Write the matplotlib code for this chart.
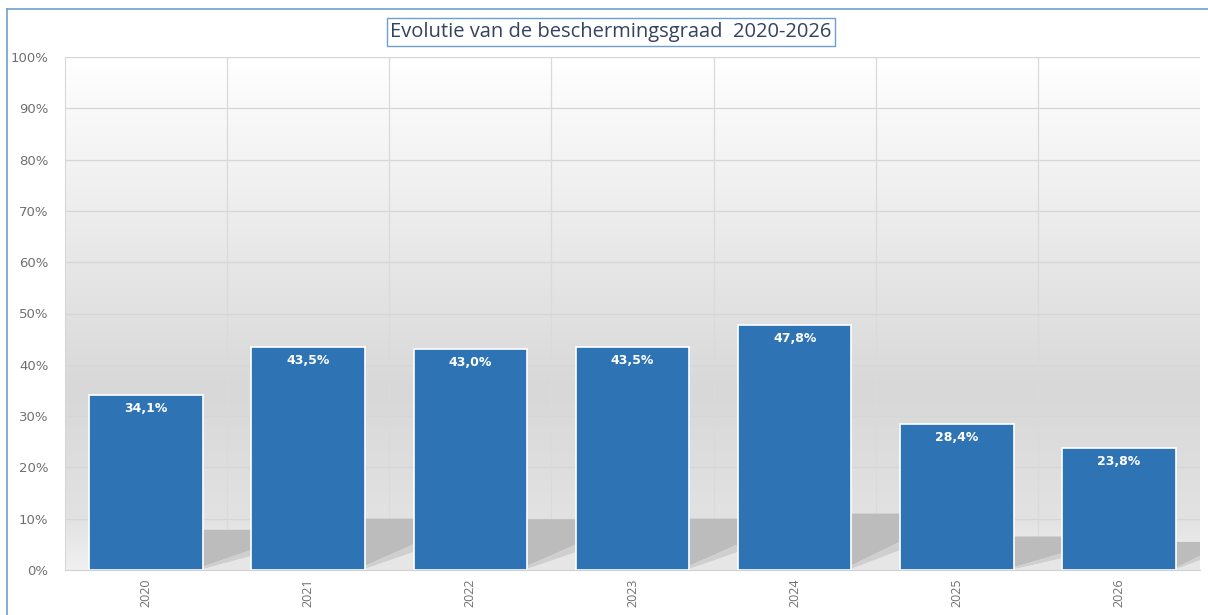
import numpy as np
import matplotlib.pyplot as plt
from matplotlib.lines import Line2D
from matplotlib.colors import LinearSegmentedColormap

years = ['2020', '2021', '2022', '2023', '2024', '2025', '2026']
values = [34.1, 43.5, 43.0, 43.5, 47.8, 28.4, 23.8]
labels = ['34,1%', '43,5%', '43,0%', '43,5%', '47,8%', '28,4%', '23,8%']
yticks = [0, 10, 20, 30, 40, 50, 60, 70, 80, 90, 100]

plt.rcParams['font.family'] = ['Open Sans', 'DejaVu Sans']

fig = plt.figure(figsize=(12.08, 6.15), dpi=100)
ax = fig.add_axes([65/1208, 45/615, (1200-65)/1208, (570-57)/615])

# achtergrond verloop
cmap = LinearSegmentedColormap.from_list('bg', [(0, '#f0f0f0'), (0.1, '#e2e2e2'),
                                                (0.35, '#d8d8d8'), (1, '#ffffff')])
grad = np.linspace(0, 1, 256).reshape(-1, 1)
ax.imshow(grad, extent=(-0.5, 6.5, 0, 100), origin='lower', aspect='auto',
          cmap=cmap, zorder=0)

x = np.arange(len(years))
bw = 0.70
for y in yticks[1:]:
    ax.axhline(y, color='#d6d6d6', lw=0.9, zorder=1)
for b in np.arange(0.5, 6.5, 1):
    ax.axvline(b, color='#dadada', lw=0.9, zorder=1)

# schaduwen
for i, v in enumerate(values):
    x0 = i + bw/2
    x1 = i + 1 - bw/2 if i < len(values)-1 else 6.5
    h = v * 0.23
    ax.fill([x0, x1, x1, x0], [h, h, 0.5*h, 0.08*h], color='#bcbcbc', lw=0, zorder=2)
    ax.fill([x0, x1, x1, x0], [0.08*h, 0.5*h, 0.35*h, 0.02*h], color='#cfcfcf', lw=0, zorder=2)
    ax.fill([x0, x1, x1, x0], [0, 0, 0.35*h, 0.02*h], color='#e6e6e6', lw=0, zorder=2)

ax.bar(x, values, width=bw, color='#2e74b5', edgecolor='white', lw=1.2, zorder=3)
for i, v in enumerate(values):
    ax.text(i, v - 2.6, labels[i], ha='center', va='center', color='white',
            fontsize=9, fontweight='bold', family='DejaVu Sans', zorder=4)

ax.set_xlim(-0.5, 6.5)
ax.set_ylim(0, 100)
ax.set_yticks(yticks)
ax.set_yticklabels([f'{t}%' for t in yticks], color='#707070', fontsize=9.5,
                   family='DejaVu Sans')
ax.set_xticks(x)
ax.set_xticklabels(years, rotation=90, color='#707070', fontsize=9)
ax.tick_params(length=0, pad=12)
ax.tick_params(axis='x', pad=6)
for s in ax.spines.values():
    s.set_visible(False)
ax.spines['bottom'].set_visible(True)
ax.spines['bottom'].set_color('#d0d0d0')
ax.spines['left'].set_visible(True)
ax.spines['left'].set_color('#d8d8d8')

fig.text(611/1208, 1 - 32/615, 'Evolutie van de beschermingsgraad  2020-2026',
         ha='center', va='center', fontsize=14.5, color='#34435f',
         bbox=dict(boxstyle='square,pad=0.18', fc='white', ec='#6f9fd0', lw=1))

fig.add_artist(Line2D([7/1208, 7/1208], [0, 1 - 9/615], color='#6f9fd0', lw=1.2))
fig.add_artist(Line2D([7/1208, 1], [1 - 9/615, 1 - 9/615], color='#6f9fd0', lw=1.2))

fig.savefig('out.png', dpi=100)
